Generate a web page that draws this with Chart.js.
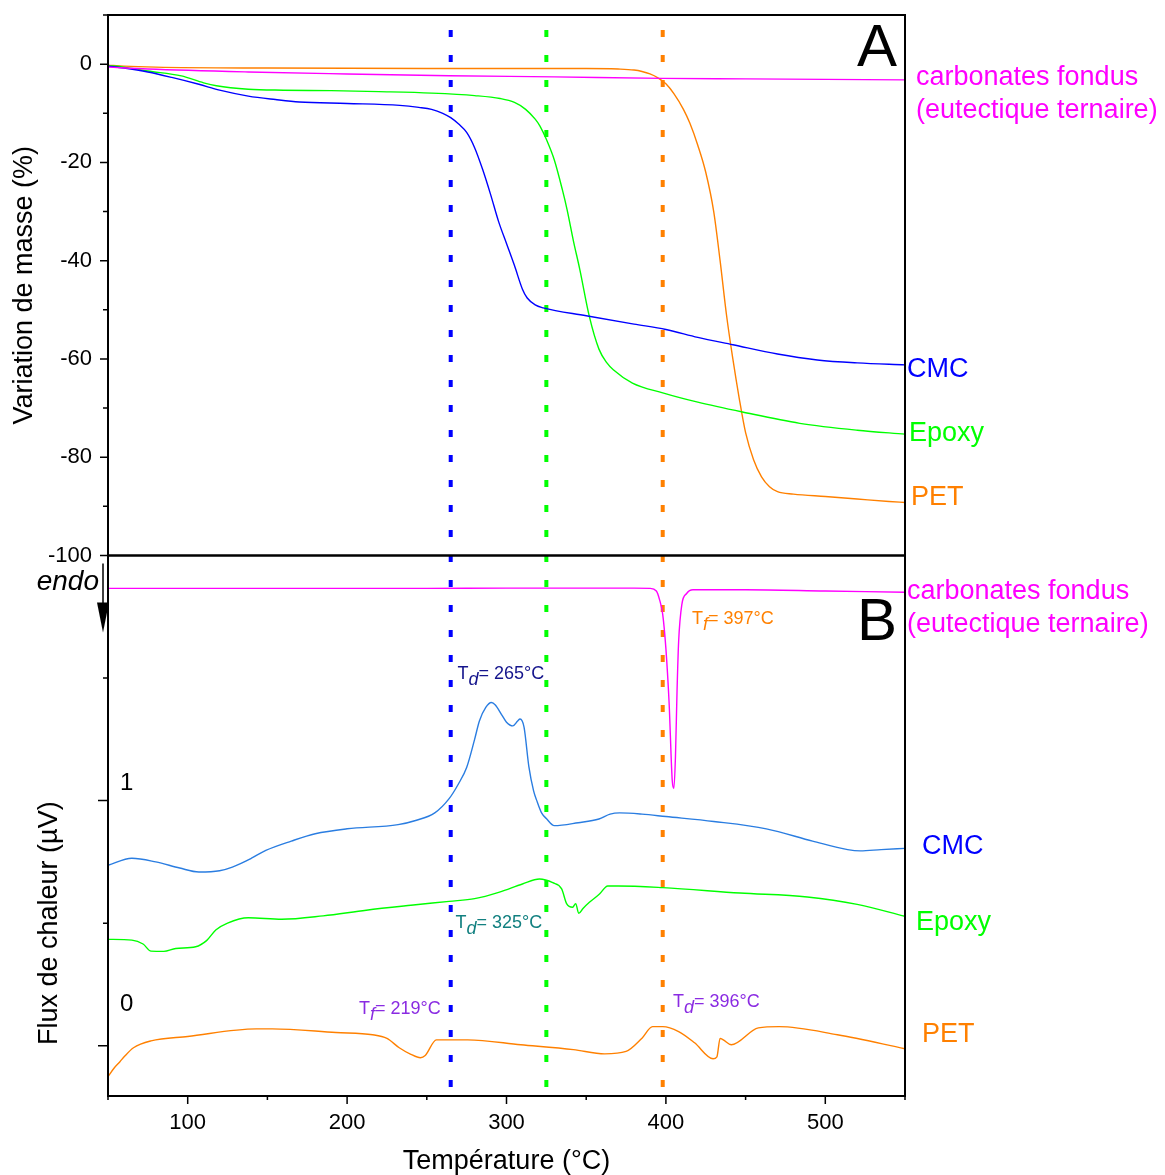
<!DOCTYPE html>
<html lang="fr">
<head>
<meta charset="UTF-8">
<title>ATG / ATD</title>
<script src="https://cdn.jsdelivr.net/npm/chart.js"></script>
<style>
  body { margin: 0; background: #fff; }
  canvas { display: block; }
</style>
</head>
<body>
<canvas id="c" width="1165" height="1175"></canvas>
<script>
// ---- Panel A : variation de masse (%) ----
const carbT = [50, 75, 138, 200, 264, 330, 398, 450, 500, 550];
const carbV = [-0.6, -1.0, -1.6, -2.0, -2.35, -2.6, -2.9, -3.0, -3.1, -3.2];

const cmcT = [50, 60, 75, 90, 107, 120, 138, 155, 170, 200, 233, 245, 253, 260, 265, 270, 275, 280, 285, 290, 295, 300, 305, 310, 313, 318, 323, 350, 380, 400, 420, 442, 470, 495, 520, 550];
const cmcV = [-0.4, -0.8, -1.6, -2.7, -4.1, -5.3, -6.5, -7.2, -7.7, -8.0, -8.4, -8.8, -9.2, -10, -10.9, -12.2, -13.9, -17, -21.4, -26.5, -32, -36.5, -41, -45.8, -47.6, -49, -49.6, -51.2, -52.9, -54, -55.6, -57.1, -59, -60.2, -60.8, -61.2];

const epoT = [50, 60, 75, 96, 110, 118, 138, 160, 190, 220, 253, 280, 296, 305, 312, 318, 321, 325, 330, 335, 338, 342, 346, 352, 358, 363, 367, 379, 398, 420, 448, 484, 520, 550];
const epoV = [-0.3, -0.6, -1.4, -2.4, -3.8, -4.4, -5.1, -5.3, -5.4, -5.6, -5.9, -6.4, -7.0, -7.8, -9.2, -11.2, -12.6, -15.3, -19.5, -25.5, -29.6, -36, -41.8, -51.4, -58, -60.8, -62.2, -64.9, -66.9, -68.8, -70.8, -73.1, -74.5, -75.3];

const petT = [50, 60, 80, 150, 250, 350, 370, 380, 385, 390, 395, 400, 405, 411, 415, 420, 425, 430, 434, 438, 442, 446, 450, 455, 460, 465, 470, 480, 500, 520, 540, 550];
const petV = [-0.2, -0.4, -0.6, -0.8, -0.9, -0.9, -1.0, -1.2, -1.5, -2.0, -2.8, -4.0, -6.0, -9.2, -12, -16.5, -22, -30, -40, -51, -60, -68, -75, -80.5, -84, -86, -87, -87.5, -88, -88.5, -89, -89.2];

// ---- Panel B : flux de chaleur (u.a.) ----
const carbDscT = [50, 100, 150, 200, 250, 300, 350, 380, 390, 394, 396, 398, 400, 402, 404, 405, 406, 407, 408, 410, 413, 417, 450, 500, 550];
const carbDscV = [1.866, 1.866, 1.866, 1.866, 1.866, 1.867, 1.867, 1.867, 1.866, 1.855, 1.82, 1.76, 1.62, 1.40, 1.08, 1.05, 1.18, 1.45, 1.65, 1.80, 1.845, 1.86, 1.86, 1.855, 1.85];

const cmcDscT = [50, 65, 80, 95, 107, 120, 128, 140, 149, 165, 180, 200, 232, 243, 255, 264, 270, 275, 280, 283, 287, 290.5, 293, 297, 300, 304, 307, 308.5, 311, 314, 317, 319, 322, 325, 330, 345, 358, 365, 371, 385, 400, 430, 463, 492, 514, 522, 535, 550];
const cmcDscV = [0.736, 0.765, 0.75, 0.725, 0.709, 0.714, 0.729, 0.765, 0.797, 0.835, 0.865, 0.885, 0.902, 0.919, 0.95, 1.008, 1.07, 1.135, 1.25, 1.325, 1.38, 1.40, 1.39, 1.35, 1.32, 1.305, 1.325, 1.333, 1.30, 1.14, 1.04, 1.0, 0.95, 0.927, 0.898, 0.91, 0.925, 0.945, 0.95, 0.945, 0.935, 0.915, 0.885, 0.835, 0.80, 0.795, 0.80, 0.805];

const epoDscT = [50, 65, 72, 77, 85, 92.5, 105, 112, 117.6, 125, 138, 159, 185, 212, 240, 264, 280, 295.6, 310, 320.7, 329, 334.6, 337.7, 341.5, 343.4, 345.3, 348, 352, 358.5, 363.5, 370, 398, 446.5, 488.7, 520, 550];
const epoDscV = [0.434, 0.431, 0.415, 0.386, 0.385, 0.397, 0.404, 0.43, 0.472, 0.50, 0.522, 0.516, 0.53, 0.553, 0.573, 0.589, 0.60, 0.627, 0.66, 0.68, 0.665, 0.64, 0.58, 0.565, 0.58, 0.54, 0.56, 0.585, 0.62, 0.652, 0.652, 0.645, 0.623, 0.607, 0.577, 0.528];

const petDscT = [50, 54, 57.5, 60.4, 66, 77, 100, 143, 153, 193, 216, 225, 232.7, 240, 246, 249, 256, 275.6, 309, 342, 361.6, 375, 385, 391.6, 398, 408, 418, 429.6, 432, 434, 436, 441, 458, 471, 507.6, 550];
const petDscV = [-0.126, -0.09, -0.065, -0.043, -0.008, 0.02, 0.038, 0.069, 0.069, 0.054, 0.045, 0.03, -0.008, -0.035, -0.049, -0.04, 0.024, 0.024, 0.004, -0.016, -0.033, -0.023, 0.031, 0.078, 0.078, 0.058, 0.012, -0.053, -0.045, 0.03, 0.024, 0.004, 0.073, 0.078, 0.045, -0.012];

// températures repères (lignes pointillées)
const markers = [265, 325, 398];

// graduations
const xTicks = [50, 100, 150, 200, 250, 300, 350, 400, 450, 500, 550];
const yATicks = [-100, -90, -80, -70, -60, -50, -40, -30, -20, -10, 0, 10];
const yBTicks = [0, 0.5, 1, 1.5];

const FONT = "'Liberation Sans', Arial, sans-serif";
const cMag = '#ff00ff', cBlue = '#0000ff', cBlueDsc = '#2a7de1', cGreen = '#00ff00', cOrange = '#ff8000';
const markerColors = [cBlue, cGreen, cOrange];

const pts = (xs, ys) => xs.map((x, i) => ({ x: x, y: ys[i] }));
const line = (xs, ys, color, axis) => ({
  data: pts(xs, ys), yAxisID: axis, borderColor: color, borderWidth: 1.4,
  pointRadius: 0, cubicInterpolationMode: 'monotone', fill: false
});

// largeur fixe des axes gauches, sans marge ajoutée par les étiquettes
const fixLeft = s => { s.width = 108; s.paddingTop = 0; s.paddingBottom = 0; };

function drawT(ctx, x, y, sub, rest, color) {
  ctx.fillStyle = color;
  ctx.textBaseline = 'middle';
  ctx.textAlign = 'left';
  ctx.font = '18px ' + FONT;
  ctx.fillText('T', x, y);
  let w = ctx.measureText('T').width;
  ctx.font = 'italic 18px ' + FONT;
  ctx.fillText(sub, x + w, y + 6);
  w += ctx.measureText(sub).width;
  ctx.font = '18px ' + FONT;
  ctx.fillText(rest, x + w, y);
}

const decor = {
  id: 'decor',
  beforeDatasetsDraw(chart) {
    const { ctx, chartArea: a, scales: { x } } = chart;
    ctx.save();
    ctx.lineWidth = 4;
    ctx.setLineDash([7, 18]);
    ctx.lineDashOffset = 10;
    markers.forEach((t, i) => {
      const px = x.getPixelForValue(t);
      ctx.strokeStyle = markerColors[i];
      ctx.beginPath();
      ctx.moveTo(px, a.top);
      ctx.lineTo(px, a.bottom);
      ctx.stroke();
    });
    ctx.restore();
  },
  afterDraw(chart) {
    const { ctx, chartArea: a, scales: { x, yA, yB } } = chart;
    ctx.save();
    // cadres des deux panneaux
    ctx.strokeStyle = '#000';
    ctx.lineWidth = 2;
    ctx.strokeRect(a.left, yA.top, a.right - a.left, yA.bottom - yA.top);
    ctx.strokeRect(a.left, yB.top, a.right - a.left, yB.bottom - yB.top);

    // graduations
    ctx.lineWidth = 1.5;
    ctx.beginPath();
    xTicks.forEach(v => {
      const px = x.getPixelForValue(v);
      ctx.moveTo(px, a.bottom);
      ctx.lineTo(px, a.bottom + (v % 100 === 0 ? 8 : 4));
    });
    yATicks.forEach(v => {
      const py = yA.getPixelForValue(v);
      ctx.moveTo(a.left, py);
      ctx.lineTo(a.left - (v % 20 === 0 ? 8 : 5), py);
    });
    yBTicks.forEach(v => {
      const py = yB.getPixelForValue(v);
      ctx.moveTo(a.left, py);
      ctx.lineTo(a.left - (Number.isInteger(v) ? 10 : 5), py);
    });
    ctx.stroke();

    // titres des axes
    ctx.fillStyle = '#000';
    ctx.font = '27px ' + FONT;
    ctx.textAlign = 'center';
    ctx.textBaseline = 'middle';
    ctx.fillText('Température (°C)', (a.left + a.right) / 2, a.bottom + 66);
    ctx.save();
    ctx.translate(25, (yA.top + yA.bottom) / 2);
    ctx.rotate(-Math.PI / 2);
    ctx.fillText('Variation de masse (%)', 0, 0);
    ctx.restore();
    ctx.save();
    ctx.translate(50, yB.getPixelForValue(0.5));
    ctx.rotate(-Math.PI / 2);
    ctx.fillText('Flux de chaleur (µV)', 0, 0);
    ctx.restore();

    // lettres de panneau
    ctx.font = '60px ' + FONT;
    ctx.fillText('A', a.right - 28, yA.top + 34);
    ctx.fillText('B', a.right - 28, yB.top + 68);

    // "0" et "1" de l'échelle B
    ctx.font = '24px ' + FONT;
    ctx.textAlign = 'left';
    ctx.fillText('1', a.left + 12, yB.getPixelForValue(1.069));
    ctx.fillText('0', a.left + 12, yB.getPixelForValue(0.167));

    // endo + flèche
    ctx.font = 'italic 28px ' + FONT;
    ctx.textAlign = 'right';
    ctx.fillText('endo', a.left - 9, yB.top + 27);
    ctx.beginPath();
    ctx.moveTo(a.left - 5, yB.top + 8);
    ctx.lineTo(a.left - 5, yB.top + 50);
    ctx.stroke();
    ctx.beginPath();
    ctx.moveTo(a.left - 11, yB.top + 47);
    ctx.lineTo(a.left + 1, yB.top + 47);
    ctx.lineTo(a.left - 5, yB.top + 77);
    ctx.closePath();
    ctx.fill();

    // étiquettes des courbes (à droite)
    ctx.font = '27px ' + FONT;
    ctx.textAlign = 'left';
    const lab = (t, c, px, py) => { ctx.fillStyle = c; ctx.fillText(t, px, py); };
    lab('carbonates fondus', cMag, a.right + 11, yA.getPixelForValue(-2.65));
    lab('(eutectique ternaire)', cMag, a.right + 11, yA.getPixelForValue(-9.4));
    lab('CMC', cBlue, a.right + 2, yA.getPixelForValue(-62.2));
    lab('Epoxy', cGreen, a.right + 4, yA.getPixelForValue(-75.1));
    lab('PET', cOrange, a.right + 6, yA.getPixelForValue(-88.2));
    lab('carbonates fondus', cMag, a.right + 2, yB.getPixelForValue(1.854));
    lab('(eutectique ternaire)', cMag, a.right + 2, yB.getPixelForValue(1.72));
    lab('CMC', cBlue, a.right + 17, yB.getPixelForValue(0.813));
    lab('Epoxy', cGreen, a.right + 11, yB.getPixelForValue(0.504));
    lab('PET', cOrange, a.right + 17, yB.getPixelForValue(0.045));

    // températures caractéristiques
    drawT(ctx, x.getPixelForValue(269.2), yB.getPixelForValue(1.516), 'd', '= 265°C', '#14148c');
    drawT(ctx, x.getPixelForValue(416.4), yB.getPixelForValue(1.74), 'f', '= 397°C', cOrange);
    drawT(ctx, x.getPixelForValue(268), yB.getPixelForValue(0.5), 'd', '= 325°C', '#128080');
    drawT(ctx, x.getPixelForValue(207.5), yB.getPixelForValue(0.15), 'f', '= 219°C', '#8a2be2');
    drawT(ctx, x.getPixelForValue(404.4), yB.getPixelForValue(0.179), 'd', '= 396°C', '#8a2be2');
    ctx.restore();
  }
};

new Chart(document.getElementById('c'), {
  type: 'line',
  data: {
    datasets: [
      line(carbT, carbV, cMag, 'yA'),
      line(cmcT, cmcV, cBlue, 'yA'),
      line(epoT, epoV, cGreen, 'yA'),
      line(petT, petV, cOrange, 'yA'),
      line(carbDscT, carbDscV, cMag, 'yB'),
      line(cmcDscT, cmcDscV, cBlueDsc, 'yB'),
      line(epoDscT, epoDscV, cGreen, 'yB'),
      line(petDscT, petDscV, cOrange, 'yB')
    ]
  },
  options: {
    responsive: false,
    animation: false,
    events: [],
    layout: { padding: { top: 15, right: 260, left: 0, bottom: 0 } },
    plugins: { legend: { display: false }, tooltip: { enabled: false } },
    scales: {
      x: {
        type: 'linear', min: 50, max: 550,
        afterBuildTicks: s => { s.ticks = xTicks.map(v => ({ value: v })); },
        ticks: {
          callback: v => (v % 100 === 0 ? String(v) : ''),
          font: { family: FONT, size: 22 }, color: '#000',
          padding: 14, maxRotation: 0, autoSkip: false
        },
        grid: { display: false, drawTicks: false },
        border: { color: '#000', width: 2 },
        afterFit: s => { s.height = 79; s.paddingLeft = 0; s.paddingRight = 0; }
      },
      yB: {
        type: 'linear', position: 'left', stack: 'p', stackWeight: 1,
        min: -0.205, max: 2,
        ticks: { display: false },
        grid: { display: false, drawTicks: false },
        border: { color: '#000', width: 2 },
        afterFit: fixLeft
      },
      yA: {
        type: 'linear', position: 'left', stack: 'p', stackWeight: 1,
        min: -100, max: 10,
        afterBuildTicks: s => { s.ticks = yATicks.map(v => ({ value: v })); },
        ticks: {
          callback: v => (v % 20 === 0 ? String(v) : ''),
          font: { family: FONT, size: 22 }, color: '#000',
          padding: 16, autoSkip: false
        },
        grid: { display: false, drawTicks: false },
        border: { color: '#000', width: 2 },
        afterFit: fixLeft
      }
    }
  },
  plugins: [decor]
});
</script>
</body>
</html>
